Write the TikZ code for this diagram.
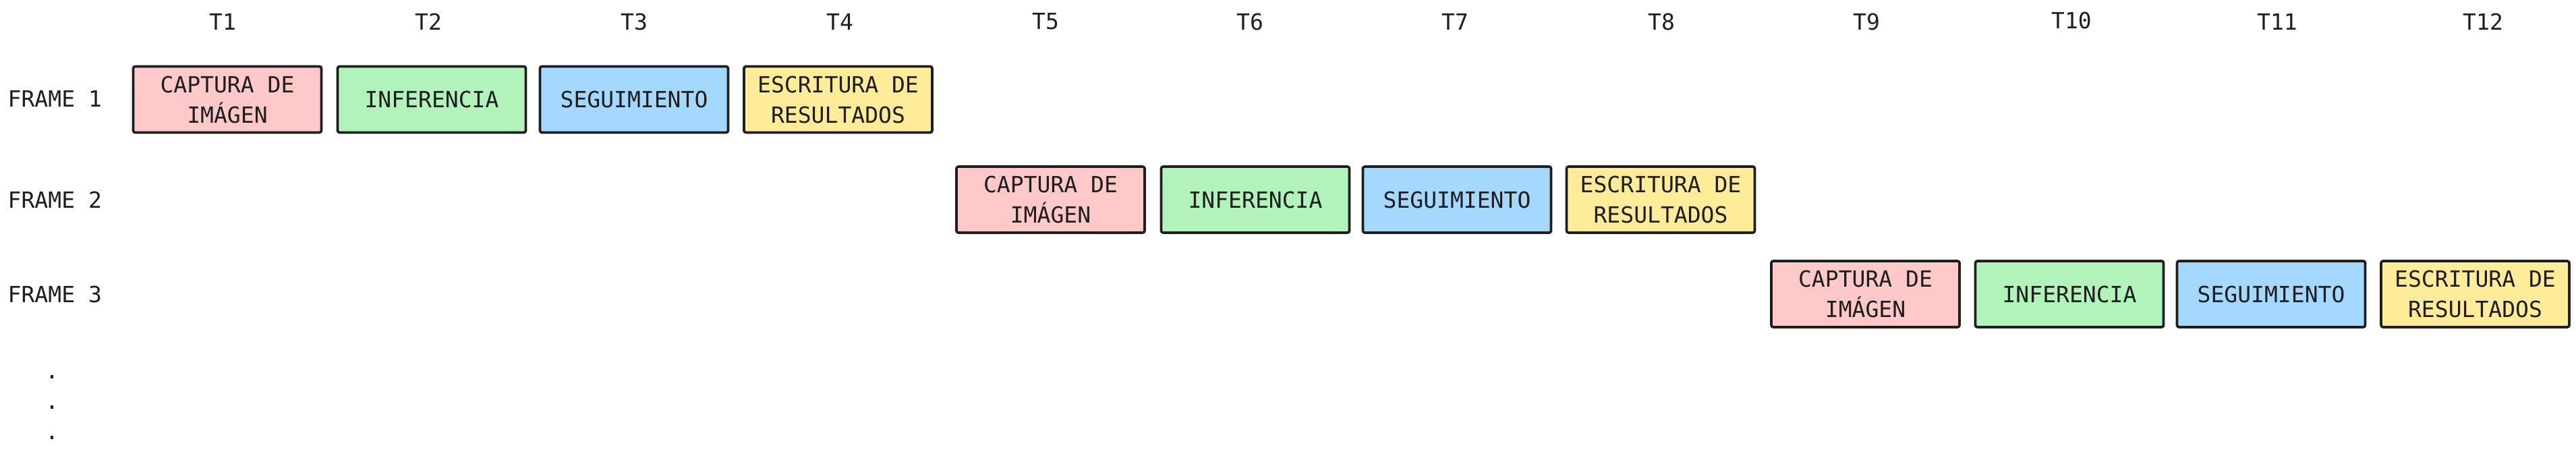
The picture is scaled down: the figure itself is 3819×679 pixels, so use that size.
\documentclass[tikz,border=0pt]{standalone}
\usepackage{fontspec}
\setmainfont{DejaVu Sans Mono}
\usepackage{tikz}

\definecolor{ink}{HTML}{1E1E1E}
\definecolor{capturafill}{HTML}{FFC9C9}
\definecolor{inferfill}{HTML}{B2F2BB}
\definecolor{seguifill}{HTML}{A5D8FF}
\definecolor{escrifill}{HTML}{FFEC99}

\begin{document}
\begin{tikzpicture}[x=0.1mm, y=-0.1mm,
  every node/.style={text=ink, font=\fontsize{9.4}{12.8}\selectfont},
  stage/.style={draw=ink, line width=1.05pt, rounded corners=0.3mm,
    minimum width=27.9mm, minimum height=9.8mm, inner sep=0pt, align=center},
  captura/.style={stage, fill=capturafill},
  infer/.style={stage, fill=inferfill},
  segui/.style={stage, fill=seguifill},
  escri/.style={stage, fill=escrifill}]
\useasboundingbox (0,0) rectangle (3819,679);

% time slots
\node (t1) at (330, 32) {T1};
\node (t2) at (635, 32) {T2};
\node (t3) at (940, 32) {T3};
\node (t4) at (1245, 32) {T4};
\node (t5) at (1550, 32) {T5};
\node (t6) at (1853, 32) {T6};
\node (t7) at (2157, 32) {T7};
\node (t8) at (2463, 32) {T8};
\node (t9) at (2767, 32) {T9};
\node (t10) at (3071, 30) {T10};
\node (t11) at (3376, 32) {T11};
\node (t12) at (3681, 32) {T12};

% frame labels
\node[anchor=west, inner xsep=0pt] (frame1) at (11, 146) {FRAME 1};
\node[anchor=west, inner xsep=0pt] (frame2) at (11, 296) {FRAME 2};
\node[anchor=west, inner xsep=0pt] (frame3) at (11, 436) {FRAME 3};

% frame 1
\node[captura] (cap1) at (337, 147.5) {CAPTURA DE\\IMÁGEN};
\node[infer] (inf1) at (640, 147.5) {INFERENCIA};
\node[segui] (seg1) at (940, 147.5) {SEGUIMIENTO};
\node[escri] (esc1) at (1242.5, 147.5) {ESCRITURA DE\\RESULTADOS};

% frame 2
\node[captura] (cap2) at (1557.5, 296) {CAPTURA DE\\IMÁGEN};
\node[infer] (inf2) at (1861, 296) {INFERENCIA};
\node[segui] (seg2) at (2160, 296) {SEGUIMIENTO};
\node[escri] (esc2) at (2462, 296) {ESCRITURA DE\\RESULTADOS};

% frame 3
\node[captura] (cap3) at (2765.5, 436) {CAPTURA DE\\IMÁGEN};
\node[infer] (inf3) at (3068, 436) {INFERENCIA};
\node[segui] (seg3) at (3367, 436) {SEGUIMIENTO};
\node[escri] (esc3) at (3669.5, 436) {ESCRITURA DE\\RESULTADOS};

\node[align=center, font=\fontsize{9.4}{12.8}\selectfont] (dots) at (77, 604) {.\\.\\.};

\end{tikzpicture}
\end{document}
